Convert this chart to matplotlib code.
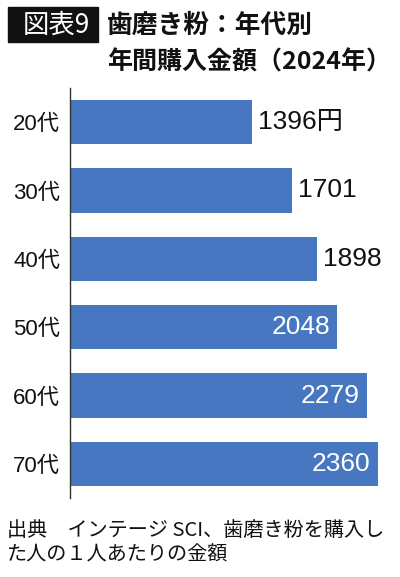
import matplotlib
matplotlib.use("Agg")
import matplotlib.pyplot as plt
from matplotlib.patches import Rectangle

plt.rcParams['font.family'] = ['Noto Sans CJK JP', 'DejaVu Sans']
latin_first = ['Liberation Sans', 'Noto Sans CJK JP']

# data
ages = ['20代', '30代', '40代', '50代', '60代', '70代']
amounts = [1396, 1701, 1898, 2048, 2279, 2360]
value_labels = ['1396円', '1701', '1898', '2048', '2279', '2360']
inside = [False, False, False, True, True, True]

fig = plt.figure(figsize=(4.0, 5.77), dpi=100)
ax = fig.add_axes([0.175, 0.1369, 0.815, 0.7106])

ypos = list(range(len(ages)))
ax.barh(ypos, amounts, height=0.65, color='#4677C0')
ax.set_ylim(len(ages) - 0.5, -0.5)
ax.set_xlim(0, 2500)

ax.set_yticks(ypos)
ax.set_yticklabels(ages, fontsize=16, color='#111111', family=latin_first)
ax.tick_params(axis='y', length=0, pad=7)
ax.set_xticks([])
for s in ['top', 'right', 'bottom']:
    ax.spines[s].set_visible(False)
ax.spines['left'].set_linewidth(1.0)
ax.spines['left'].set_color('#333333')

for y, v, lab, ins in zip(ypos, amounts, value_labels, inside):
    if ins:
        ax.text(v - 55, y, lab, ha='right', va='center', fontsize=19,
                color='white', family=latin_first)
    else:
        ax.text(v + 45, y, lab, ha='left', va='center', fontsize=19,
                color='#111111', family=latin_first)

# title block
fig.patches.append(Rectangle((8 / 400, 1 - 42 / 577), 90 / 400, 35 / 577,
                             transform=fig.transFigure, color='#111111'))
fig.text(56 / 400, 1 - 25 / 577, '図表9', ha='center', va='center',
         fontsize=19, color='white')
fig.text(107 / 400, 1 - 25 / 577, '歯磨き粉：年代別', ha='left', va='center',
         fontsize=18.5, fontweight='bold', color='#111111')
fig.text(107 / 400, 1 - 62 / 577, '年間購入金額（2024年）', ha='left',
         va='center', fontsize=18, fontweight='bold', color='#111111')

# source note
fig.text(7 / 400, 1 - 530 / 577, '出典　インテージ SCI、歯磨き粉を購入し',
         ha='left', va='center', fontsize=14.5, color='#111111')
fig.text(7 / 400, 1 - 555 / 577, 'た人の１人あたりの金額',
         ha='left', va='center', fontsize=14.5, color='#111111')

fig.savefig('out.png', dpi=100)
